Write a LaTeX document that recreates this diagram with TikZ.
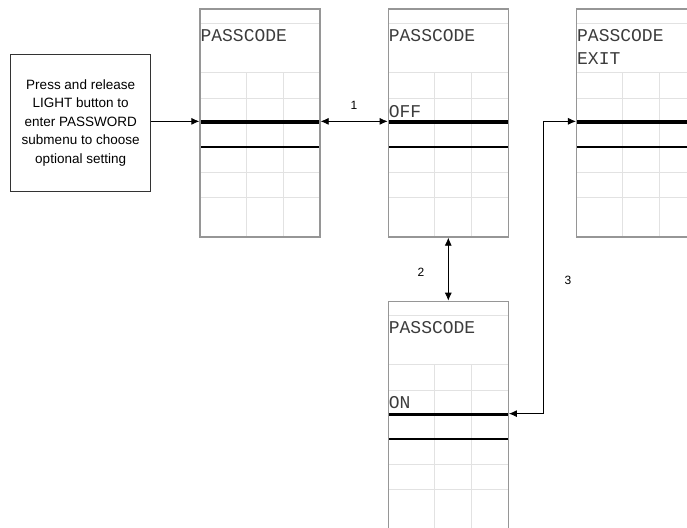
\documentclass[tikz,border=0pt]{standalone}
\usepackage{fontspec}
\newfontfamily\notefont{Liberation Sans}
\newfontfamily\lcdfont{Liberation Mono}
\usetikzlibrary{arrows.meta, positioning}
\definecolor{framegray}{RGB}{150,150,150}
\definecolor{gridgray}{RGB}{226,226,226}
\definecolor{lcdtext}{RGB}{60,60,60}

\begin{document}
\begin{tikzpicture}[x=1pt, y=-1pt,
    >={Latex[length=8pt, width=7pt]},
    note/.style={rectangle, draw=black!80, line width=1.4pt, inner sep=0pt,
                 minimum width=140pt, minimum height=137pt, align=center,
                 font=\notefont\fontsize{13.5}{18.5}\selectfont},
    screen/.style={rectangle, draw=framegray, line width=1.3pt, inner sep=0pt,
                   minimum width=120pt, minimum height=228pt,
                   path picture={
                     \foreach \dy in {14,63,89,163,188}
                       \draw[gridgray, line width=0.8pt]
                         ([yshift=-\dy pt]path picture bounding box.north west) --
                         ([yshift=-\dy pt]path picture bounding box.north east);
                     \foreach \dx in {46,83}
                       \draw[gridgray, line width=0.8pt]
                         ([shift={(\dx pt,-63pt)}]path picture bounding box.north west) --
                         ([xshift=\dx pt]path picture bounding box.south west);
                     \draw[black, line width=3.2pt]
                       ([yshift=-113pt]path picture bounding box.north west) --
                       ([yshift=-113pt]path picture bounding box.north east);
                     \draw[black, line width=2.2pt]
                       ([yshift=-138pt]path picture bounding box.north west) --
                       ([yshift=-138pt]path picture bounding box.north east);
                   }},
    lcd/.style={font=\lcdfont\fontsize{18}{22}\selectfont, text=lcdtext,
                inner sep=0pt, anchor=base west},
    link/.style={->, line width=0.8pt},
    num/.style={font=\notefont\fontsize{12}{14}\selectfont}
  ]
  \clip (0,0) rectangle (687,527);

  % screens
  \node[screen] (scrA) at (260,123) {};
  \node[screen, right=67pt of scrA] (scrB) {};
  \node[screen, right=67pt of scrB] (scrC) {};
  \node[screen, below=63pt of scrB] (scrD) {};

  \node[note, left=48pt of scrA] (note) {Press and release\\LIGHT button to\\enter PASSWORD\\submenu to choose\\optional setting};

  % screen texts
  \node[lcd] (txtA) at ([shift={(1pt,-33pt)}]scrA.north west) {PASSCODE};
  \node[lcd] (txtB) at ([shift={(1pt,-33pt)}]scrB.north west) {PASSCODE};
  \node[lcd] (offB) at ([shift={(1pt,-109pt)}]scrB.north west) {OFF};
  \node[lcd] (txtC) at ([shift={(1pt,-33pt)}]scrC.north west) {PASSCODE};
  \node[lcd] (exitC) at ([shift={(1pt,-56pt)}]scrC.north west) {EXIT};
  \node[lcd] (txtD) at ([shift={(1pt,-33pt)}]scrD.north west) {PASSCODE};
  \node[lcd] (onD) at ([shift={(1pt,-108pt)}]scrD.north west) {ON};

  % selection lines
  \coordinate (selA) at ([yshift=-113pt]scrA.north west);
  \coordinate (selB) at ([yshift=-113pt]scrB.north west);
  \coordinate (selC) at ([yshift=-113pt]scrC.north west);
  \coordinate (selD) at ([yshift=-113pt]scrD.north east);

  \draw[link] (note.east |- selA) -- (selA);
  \draw[link, <->] (scrA.east |- selA) -- (selB);
  \draw[link, <->] (scrB.south) -- (scrD.north);
  \draw[link, <->] (selD) -- ++(34,0) |- (selC);

  \node[num] (lab1) at (354,105) {1};
  \node[num] (lab2) at (421,272) {2};
  \node[num] (lab3) at (568,280) {3};
\end{tikzpicture}
\end{document}
